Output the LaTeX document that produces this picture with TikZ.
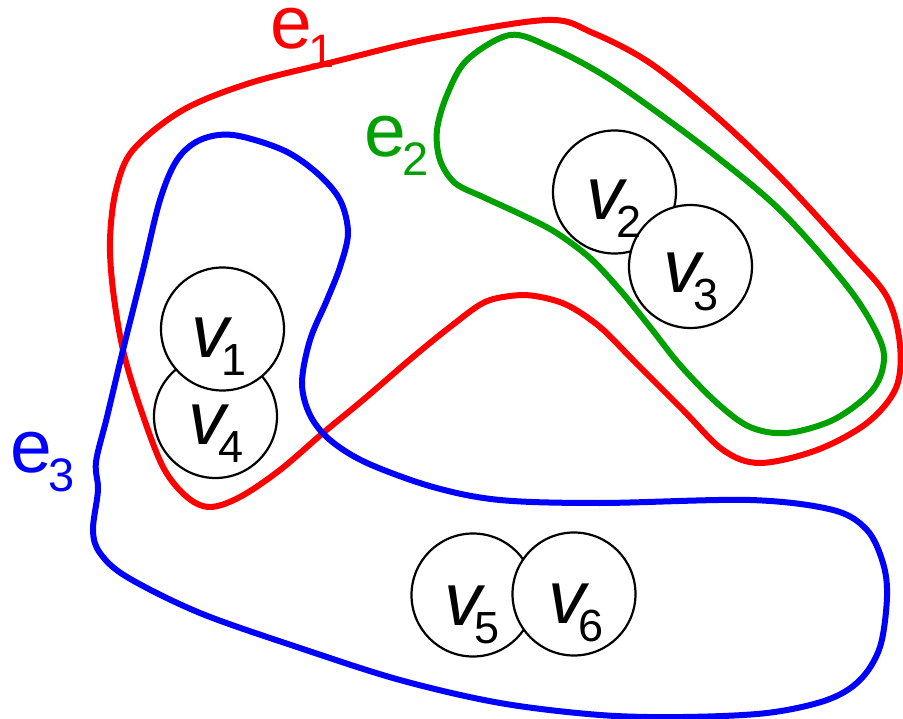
\documentclass[tikz,border=0pt]{standalone}
\usepackage{fontspec}
\setmainfont{Liberation Sans}
\definecolor{ered}{RGB}{255,0,0}
\definecolor{egreen}{RGB}{0,160,0}
\definecolor{eblue}{RGB}{0,0,255}
\newcommand{\vlab}[1]{\fontsize{75}{75}\selectfont\itshape v\upshape\kern-7pt\raisebox{-18pt}{\fontsize{45}{45}\selectfont #1}}
\newcommand{\elab}[1]{\fontsize{75}{75}\selectfont e\kern-3pt\raisebox{-19pt}{\fontsize{47}{47}\selectfont #1}}
\tikzset{
  vert/.style={circle, draw=black, line width=2.2pt, fill=white, minimum size=123pt, inner sep=0pt},
  lbl/.style={anchor=base west, inner sep=0pt, outer sep=0pt},
  hedge/.style={line width=6pt, line join=round},
}
\begin{document}
\begin{tikzpicture}[x=1pt, y=-1pt]
\useasboundingbox (0,0) rectangle (903,719);
% vertices
\node[vert] (v4) at (215.5,416.5) {};
\node[vert] (v1) at (222.5,329) {};
\node[vert] (v2) at (614.5,192) {};
\node[vert] (v3) at (690.5,266.5) {};
\node[vert] (v5) at (473,595) {};
\node[vert] (v6) at (574,594) {};
% vertex labels
\node[lbl] (l1) at (191,358) {\vlab{1}};
\node[lbl] (l4) at (188,445) {\vlab{4}};
\node[lbl] (l2) at (586,220) {\vlab{2}};
\node[lbl] (l3) at (663,293) {\vlab{3}};
\node[lbl] (l5) at (444,625) {\vlab{5}};
\node[lbl] (l6) at (548,623) {\vlab{6}};
% edge labels
\node[lbl, text=ered] (le1) at (270,49) {\elab{1}};
\node[lbl, text=egreen] (le2) at (364,157) {\elab{2}};
\node[lbl, text=eblue] (le3) at (10,472) {\elab{3}};
% hyperedge e1
\draw[hedge, ered] plot[smooth cycle, tension=0.55] coordinates {
 (547,20) (593,33) (650,63) (717,117) (783,180) (850,253) (887,297) (900,345)
 (896,388) (867,423) (817,450) (760,463) (723,450) (683,410) (633,360) (600,327)
 (567,305) (535,296) (510,296) (483,303) (450,327) (413,357) (363,400) (323,433)
 (280,470) (240,497) (210,507) (187,497) (163,467) (140,407) (123,350) (113,290)
 (110,240) (116,190) (133,150) (183,110) (250,83) (333,62) (433,38)};
% hyperedge e2
\draw[hedge, egreen] plot[smooth cycle, tension=0.55] coordinates {
 (510,35) (550,47) (600,73) (650,107) (717,157) (783,213) (850,290) (880,340)
 (883,367) (870,393) (833,420) (787,433) (750,427) (717,403) (680,365) (650,327)
 (620,290) (590,258) (555,232) (520,214) (483,197) (455,183) (440,160) (437,130)
 (447,95) (467,60)};
% hyperedge e3
\draw[hedge, eblue] plot[smooth cycle, tension=0.55] coordinates {
 (233,135) (283,150) (317,173) (340,200) (348,233) (340,267) (327,300) (310,340)
 (302,383) (310,415) (330,440) (367,463) (433,487) (500,500) (600,503) (750,500)
 (833,510) (867,530) (883,563) (887,597) (880,647) (860,680) (827,700) (767,713)
 (683,717) (600,715) (500,703) (400,680) (300,648) (200,613) (127,577) (100,553)
 (93,530) (98,490) (96,462) (107,417) (123,350) (143,270) (160,200) (177,160)
 (200,140)};
\end{tikzpicture}
\end{document}
